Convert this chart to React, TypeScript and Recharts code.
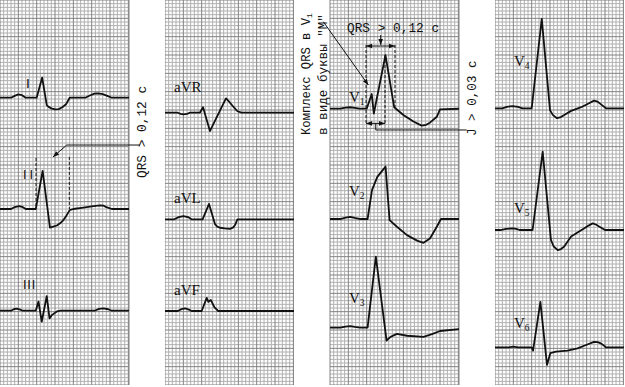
import React from 'react';
import { LineChart, Line, XAxis, YAxis, ReferenceLine } from 'recharts';

type Pt = [number, number]; // [time s, mV]

// ---- ECG traces (time in seconds, amplitude in mV) ----
const LEAD_I: Pt[] = [[0,0],[0.12,0],[0.16,0.05],[0.20,0.09],[0.24,0.07],[0.28,0],[0.40,0],[0.46,0.55],[0.51,-0.20],[0.53,-0.25],[0.56,-0.29],[0.60,-0.32],[0.64,-0.31],[0.68,-0.26],[0.72,-0.18],[0.76,0],[0.93,0],[0.98,0.06],[1.03,0.11],[1.07,0.12],[1.12,0.10],[1.17,0.05],[1.22,0],[1.41,0]];
const LEAD_II: Pt[] = [[0,0],[0.12,0],[0.16,0.05],[0.21,0.08],[0.25,0.05],[0.28,0],[0.39,0],[0.465,1.04],[0.545,-0.51],[0.58,-0.48],[0.62,-0.45],[0.655,-0.39],[0.69,-0.31],[0.72,-0.2],[0.76,-0.03],[0.80,0],[0.91,0.04],[1.0,0.07],[1.09,0.10],[1.13,0.09],[1.16,0.05],[1.22,0],[1.41,0]];
const LEAD_III: Pt[] = [[0,0],[0.12,0],[0.15,0.04],[0.18,0.055],[0.22,0.03],[0.25,0],[0.39,0],[0.42,0.25],[0.455,-0.30],[0.51,0.40],[0.54,-0.21],[0.565,-0.12],[0.62,-0.02],[0.66,0],[1.03,0],[1.08,0.05],[1.13,0.065],[1.18,0.04],[1.22,0],[1.41,0]];
const LEAD_AVR: Pt[] = [[0,0],[0.14,0],[0.17,-0.03],[0.20,-0.045],[0.24,-0.03],[0.27,0],[0.38,0],[0.415,0.15],[0.49,-0.50],[0.665,0.39],[0.70,0.30],[0.75,0.15],[0.79,0.04],[0.835,0],[1.41,0]];
const LEAD_AVL: Pt[] = [[0,0],[0.10,0],[0.15,0.06],[0.20,0.09],[0.25,0.06],[0.29,0],[0.41,0],[0.48,0.42],[0.545,-0.13],[0.57,-0.2],[0.60,-0.23],[0.65,-0.25],[0.71,-0.26],[0.745,-0.22],[0.765,-0.15],[0.79,0],[1.41,0]];
const LEAD_AVF: Pt[] = [[0,0],[0.14,0],[0.18,0.05],[0.22,0.07],[0.26,0.04],[0.29,0],[0.40,0],[0.455,0.36],[0.473,0.25],[0.50,0.30],[0.54,0.1],[0.58,0],[1.41,0]];
const LEAD_V1: Pt[] = [[0,0],[0.11,0],[0.17,0.03],[0.22,0.04],[0.27,0.02],[0.32,0],[0.40,0],[0.455,0.40],[0.478,-0.13],[0.605,1.46],[0.70,0.04],[0.80,-0.17],[0.91,-0.35],[1.0,-0.46],[1.05,-0.44],[1.09,-0.38],[1.165,-0.22],[1.20,-0.02],[1.41,0]];
const LEAD_V2: Pt[] = [[0,0],[0.11,0],[0.17,0.04],[0.22,0.06],[0.27,0.03],[0.33,0],[0.41,0],[0.458,0.79],[0.516,1.15],[0.606,1.43],[0.65,-0.03],[0.73,-0.21],[0.84,-0.44],[0.95,-0.59],[1.02,-0.65],[1.09,-0.53],[1.165,-0.21],[1.21,0],[1.41,0]];
const LEAD_V3: Pt[] = [[0,0],[0.11,0],[0.17,0.03],[0.22,0.045],[0.27,0.02],[0.33,0],[0.41,0],[0.50,1.94],[0.617,-0.35],[0.66,-0.25],[0.73,-0.17],[0.84,-0.22],[1.02,-0.25],[1.12,-0.17],[1.2,-0.09],[1.41,-0.04]];
const LEAD_V4: Pt[] = [[0,0],[0.08,0],[0.13,0.04],[0.19,0.06],[0.25,0.04],[0.30,0],[0.40,0],[0.51,2.44],[0.60,-0.05],[0.63,-0.18],[0.675,-0.27],[0.71,-0.25],[0.755,-0.18],[0.83,-0.07],[0.94,0.03],[1.02,0.13],[1.08,0.21],[1.12,0.18],[1.16,0.10],[1.21,0],[1.41,0]];
const LEAD_V5: Pt[] = [[0,0],[0.06,0],[0.12,0.03],[0.19,0.045],[0.23,0.03],[0.27,0],[0.41,0],[0.52,2.14],[0.61,-0.27],[0.64,-0.45],[0.685,-0.55],[0.72,-0.52],[0.755,-0.45],[0.83,-0.18],[0.90,-0.07],[0.975,0.05],[1.02,0.12],[1.065,0.18],[1.10,0.15],[1.14,0.09],[1.20,0],[1.41,0]];
const LEAD_V6: Pt[] = [[0,0],[0.15,0],[0.2,0.02],[0.25,0],[0.40,0],[0.415,-0.09],[0.495,1.24],[0.567,-0.48],[0.603,-0.16],[0.665,-0.12],[0.79,-0.09],[0.90,-0.03],[1.0,0.07],[1.08,0.15],[1.12,0.14],[1.16,0.10],[1.21,0],[1.41,0]];

const LEAD_LABELS = ['I', 'II', 'III', 'aVR', 'aVL', 'aVF', 'V1', 'V2', 'V3', 'V4', 'V5', 'V6'];

// ECG paper: 0.04 s and 0.1 mV per small square, 5 small per large
const T_MAX = 1.407;
const V_MAX = 10.5;
const GRID_T = Array.from({ length: 36 }, (_, i) => Math.round(i * 4) / 100);
const GRID_V = Array.from({ length: 106 }, (_, i) => i / 10);

const PLOT_W = 129;
const PLOT_H = 385;
const MINOR = '#b0b0b0';
const MAJOR = '#828282';
const INK = '#111111';

type Ann = { a: Pt; b: Pt; dashed?: boolean; s?: boolean; e?: boolean };

const head = (xa: number, ya: number, xb: number, yb: number) => {
  const ang = Math.atan2(yb - ya, xb - xa);
  const L = 6, W = 2.3;
  const bx = xb - L * Math.cos(ang), by = yb - L * Math.sin(ang);
  const pts = `${xb},${yb} ${bx - W * Math.sin(ang)},${by + W * Math.cos(ang)} ${bx + W * Math.sin(ang)},${by - W * Math.cos(ang)}`;
  return <polygon points={pts} fill={INK} />;
};

const shapeFor = (an: Ann) => (p: any) => {
  const { x1, y1, x2, y2 } = p;
  return (
    <g>
      <line x1={x1} y1={y1} x2={x2} y2={y2} stroke={INK} strokeWidth={1}
        strokeDasharray={an.dashed ? '3 2' : undefined} />
      {an.s ? head(x2, y2, x1, y1) : null}
      {an.e ? head(x1, y1, x2, y2) : null}
    </g>
  );
};

type LeadCfg = { data: Pt[]; off: number };
type PanelCfg = { left: number; mL: number; mR: number; leads: LeadCfg[]; annLead?: number; ann?: Ann[] };

const PANELS: PanelCfg[] = [
  {
    left: 0, mL: 0, mR: 22,
    leads: [{ data: LEAD_I, off: 7.835 }, { data: LEAD_II, off: 4.80 }, { data: LEAD_III, off: 2.026 }],
    annLead: 1,
    ann: [
      { a: [0.393, 1.39], b: [0.393, 0.03], dashed: true },
      { a: [0.756, 1.42], b: [0.756, 0.0], dashed: true },
      { a: [0.728, 1.745], b: [1.527, 1.745] },
      { a: [0.728, 1.745], b: [0.578, 1.42], e: true },
    ],
  },
  {
    left: 165, mL: 0, mR: 0,
    leads: [{ data: LEAD_AVR, off: 7.426 }, { data: LEAD_AVL, off: 4.519 }, { data: LEAD_AVF, off: 2.018 }],
  },
  {
    left: 300, mL: 30, mR: 22,
    leads: [{ data: LEAD_V1, off: 7.535 }, { data: LEAD_V2, off: 4.527 }, { data: LEAD_V3, off: 1.563 }],
    annLead: 0,
    ann: [
      { a: [0.393, 1.737], b: [0.393, -0.445], dashed: true },
      { a: [0.709, 1.737], b: [0.709, 0.02], dashed: true },
      { a: [0.60, 1.465], b: [0.60, -0.445], dashed: true },
      { a: [0.393, 1.71], b: [0.709, 1.71], s: true, e: true },
      { a: [0.393, -0.40], b: [0.60, -0.40], s: true, e: true },
      { a: [0.553, 2.01], b: [0.553, 1.74], e: true },
      { a: [0.499, -0.40], b: [0.499, -0.58] },
      { a: [0.499, -0.58], b: [1.491, -0.58] },
      { a: [-0.073, 2.373], b: [0.418, 0.646], e: true },
    ],
  },
  {
    left: 495, mL: 0, mR: 0,
    leads: [{ data: LEAD_V4, off: 7.546 }, { data: LEAD_V5, off: 4.227 }, { data: LEAD_V6, off: 1.028 }],
  },
];

function GridChart({ cfg }: { cfg: PanelCfg }) {
  const w = PLOT_W + cfg.mL + cfg.mR;
  return (
    <div style={{ position: 'absolute', left: cfg.left, top: 0 }}>
      <LineChart width={w} height={PLOT_H} margin={{ top: 0, right: cfg.mR, bottom: 0, left: cfg.mL }}>
        <XAxis type="number" dataKey="t" domain={[0, T_MAX]} hide allowDataOverflow />
        <YAxis type="number" domain={[0, V_MAX]} hide allowDataOverflow />
        {GRID_V.map((v, i) => (i % 5 !== 0 ? <ReferenceLine key={'hm' + i} y={v} stroke={MINOR} strokeWidth={1} /> : null))}
        {GRID_T.map((t, i) => (i % 5 !== 0 ? <ReferenceLine key={'vm' + i} x={t} stroke={MINOR} strokeWidth={1} /> : null))}
        {GRID_V.map((v, i) => (i % 5 === 0 ? <ReferenceLine key={'hM' + i} y={v} stroke={MAJOR} strokeWidth={1} /> : null))}
        {GRID_T.map((t, i) => (i % 5 === 0 ? <ReferenceLine key={'vM' + i} x={t} stroke={MAJOR} strokeWidth={1} /> : null))}
        <ReferenceLine key="edge" x={T_MAX} stroke={MAJOR} strokeWidth={1} />
      </LineChart>
    </div>
  );
}

function TraceChart({ cfg }: { cfg: PanelCfg }) {
  const w = PLOT_W + cfg.mL + cfg.mR;
  const annOff = cfg.annLead !== undefined ? cfg.leads[cfg.annLead].off : 0;
  return (
    <div style={{ position: 'absolute', left: cfg.left, top: 0 }}>
      <LineChart width={w} height={PLOT_H} margin={{ top: 0, right: cfg.mR, bottom: 0, left: cfg.mL }}>
        <XAxis type="number" dataKey="t" domain={[0, T_MAX]} hide allowDataOverflow />
        <YAxis type="number" domain={[0, V_MAX]} hide allowDataOverflow />
        {cfg.leads.map((ld, i) => (
          <Line
            key={'ld' + i}
            data={ld.data.map(([t, v]) => ({ t, v }))}
            dataKey={(d: any) => d.v + ld.off}
            type="linear"
            stroke={INK}
            strokeWidth={1.8}
            strokeLinejoin="round"
            dot={false}
            activeDot={false}
            isAnimationActive={false}
          />
        ))}
        {(cfg.ann || []).map((an, i) => (
          <ReferenceLine
            key={'an' + i}
            segment={[{ x: an.a[0], y: an.a[1] + annOff }, { x: an.b[0], y: an.b[1] + annOff }]}
            ifOverflow="visible"
            shape={shapeFor(an)}
          />
        ))}
      </LineChart>
    </div>
  );
}

const MONO = '"Liberation Mono", "DejaVu Sans Mono", monospace';
const SERIF = '"Liberation Serif", "DejaVu Serif", serif';
const SANS = '"DejaVu Sans", "Liberation Sans", sans-serif';

function VLabel({ x, y, name }: { x: number; y: number; name: string }) {
  return (
    <text x={x} y={y} fontFamily={SERIF} fontSize={15} fill={INK}>
      {name[0]}
      <tspan fontSize={9.5} dy={3}>{name.slice(1)}</tspan>
    </text>
  );
}

export default function App() {
  return (
    <div style={{ position: 'absolute', left: 0, top: 0, width: 625, height: 387, background: '#fff', overflow: 'hidden' }}>
      {PANELS.map((p, i) => <GridChart key={'g' + i} cfg={p} />)}
      {PANELS.map((p, i) => <TraceChart key={'t' + i} cfg={p} />)}
      <svg width={625} height={387} style={{ position: 'absolute', left: 0, top: 0, pointerEvents: 'none' }}>
        <text x={26} y={88} fontFamily={SANS} fontSize={13} fill={INK}>{LEAD_LABELS[0]}</text>
        <text x={23} y={179} fontFamily={SANS} fontSize={12} letterSpacing={3} fill={INK}>{LEAD_LABELS[1]}</text>
        <text x={23} y={289} fontFamily={SANS} fontSize={12} letterSpacing={0.8} fill={INK}>{LEAD_LABELS[2]}</text>
        <text x={174} y={92} fontFamily={SERIF} fontSize={15} fill={INK}>{LEAD_LABELS[3]}</text>
        <text x={174} y={203} fontFamily={SERIF} fontSize={15} fill={INK}>{LEAD_LABELS[4]}</text>
        <text x={174} y={295} fontFamily={SERIF} fontSize={15} fill={INK}>{LEAD_LABELS[5]}</text>
        <VLabel x={349} y={102} name={LEAD_LABELS[6]} />
        <VLabel x={349} y={196} name={LEAD_LABELS[7]} />
        <VLabel x={349} y={303} name={LEAD_LABELS[8]} />
        <VLabel x={514} y={66} name={LEAD_LABELS[9]} />
        <VLabel x={514} y={213} name={LEAD_LABELS[10]} />
        <VLabel x={514} y={328} name={LEAD_LABELS[11]} />

        <text x={146} y={178} transform="rotate(-90 146 178)" fontFamily={MONO} fontSize={12.8} fill={INK}>QRS &gt; 0,12 c</text>
        <text x={347} y={32} fontFamily={MONO} fontSize={12.8} fill={INK}>QRS &gt; 0,12 c</text>
        <text x={310} y={135} transform="rotate(-90 310 135)" fontFamily={MONO} fontSize={12.2} fill={INK}>
          Комплекс QRS в V<tspan fontSize={8} dy={2}>1</tspan>
        </text>
        <text x={327} y={135} transform="rotate(-90 327 135)" fontFamily={MONO} fontSize={12.6} fill={INK}>в виде буквы "М"</text>
        <text x={476} y={136} transform="rotate(-90 476 136)" fontFamily={MONO} fontSize={12.6} fill={INK}>J &gt; 0,03 c</text>
      </svg>
    </div>
  );
}
